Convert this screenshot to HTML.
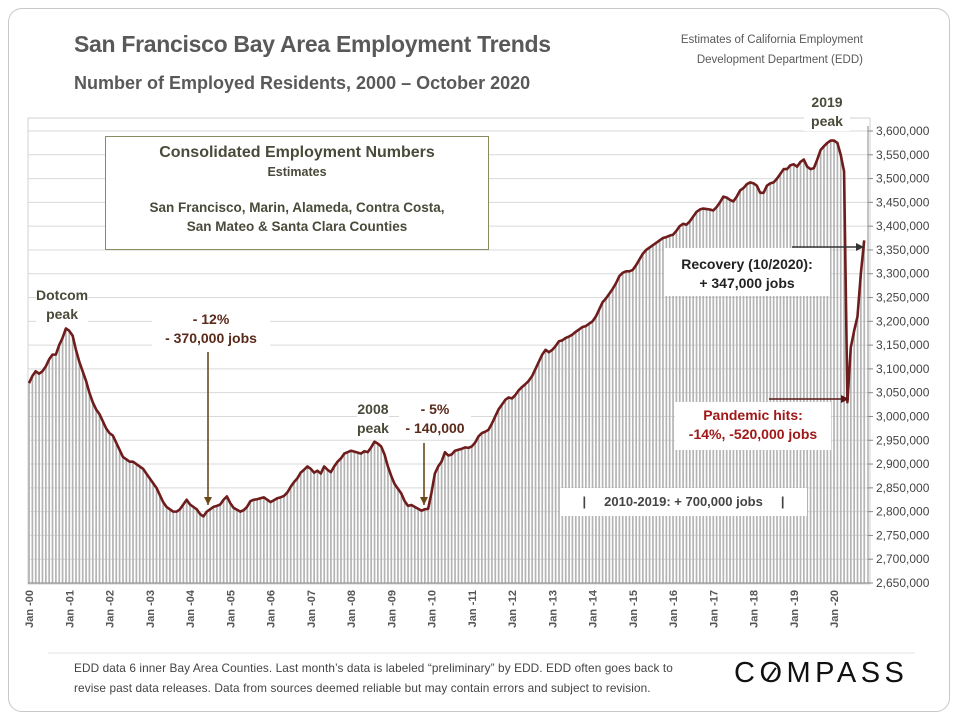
<!DOCTYPE html>
<html><head><meta charset="utf-8"><style>
body{margin:0;background:#fff;width:960px;height:720px;overflow:hidden;font-family:"Liberation Sans",sans-serif}
.card{position:absolute;left:8px;top:8px;width:940px;height:702px;border:1px solid #c8c8c8;border-radius:14px}
.t{position:absolute;white-space:nowrap}
</style></head><body>
<div class="card"></div>
<div class="t" style="left:74px;top:31px;font-size:23px;font-weight:bold;color:#595959;letter-spacing:-0.3px">San Francisco Bay Area Employment Trends</div>
<div class="t" style="left:74px;top:73px;font-size:18px;font-weight:bold;color:#595959;letter-spacing:0px">Number of Employed Residents, 2000 – October 2020</div>
<div class="t" style="right:97px;top:30px;font-size:11.5px;color:#595959;text-align:right;line-height:20px">Estimates of California Employment<br>Development Department (EDD)</div>
<svg id="chart" width="960" height="720" style="position:absolute;left:0;top:0"></svg>
<div class="t" style="left:105px;top:136px;width:382px;height:112px;border:1px solid #8a8a60;background:#fff;text-align:center;color:#4a4a3a;font-weight:bold">
<div style="font-size:16px;margin-top:7px">Consolidated Employment Numbers</div>
<div style="font-size:12.5px;margin-top:3px">Estimates</div>
<div style="font-size:13.5px;margin-top:19px;line-height:19px">San Francisco, Marin, Alameda, Contra Costa,<br>San Mateo &amp; Santa Clara Counties</div></div>
<div class="t" style="left:36px;top:286px;font-size:14px;font-weight:bold;color:#4a4a3a;text-align:center;line-height:19px;background:#fff">Dotcom<br>peak</div>
<div class="t" style="left:152px;top:310px;font-size:14px;font-weight:bold;color:#5a2a1a;text-align:center;line-height:19px;background:#fff;width:118px">- 12%<br>- 370,000 jobs</div>
<div class="t" style="left:357px;top:400px;font-size:14px;font-weight:bold;color:#4a4a3a;text-align:center;line-height:19px;background:#fff">2008<br>peak</div>
<div class="t" style="left:399px;top:400px;font-size:14px;font-weight:bold;color:#5a2a1a;text-align:center;line-height:19px;background:#fff;width:72px">- 5%<br>- 140,000</div>
<div class="t" style="left:804px;top:93px;font-size:14px;font-weight:bold;color:#4a4a3a;text-align:center;line-height:19px;background:#fff;width:46px">2019<br>peak</div>
<div class="t" style="left:664px;top:248px;width:166px;height:48px;font-size:14px;font-weight:bold;color:#222;text-align:center;line-height:19px;background:#fff;padding-top:7px;box-sizing:border-box">Recovery (10/2020):<br>+ 347,000 jobs</div>
<div class="t" style="left:675px;top:402px;width:156px;height:48px;font-size:14px;font-weight:bold;color:#a01818;text-align:center;line-height:19px;background:#fff;padding-top:4px;box-sizing:border-box">Pandemic hits:<br>-14%, -520,000 jobs</div>
<div class="t" style="left:560px;top:488px;width:247px;height:28px;font-size:13px;font-weight:bold;color:#444;text-align:center;line-height:28px;background:#fff">|&nbsp;&nbsp;&nbsp;&nbsp;&nbsp;2010-2019: + 700,000 jobs&nbsp;&nbsp;&nbsp;&nbsp;&nbsp;|</div>
<div class="t" style="left:74px;top:658px;font-size:11.8px;color:#444;line-height:20px;letter-spacing:0.1px">EDD data 6 inner Bay Area Counties. Last month’s data is labeled “preliminary” by EDD. EDD often goes back to<br>revise past data releases. Data from sources deemed reliable but may contain errors and subject to revision.</div>
<div class="t" style="left:734px;top:657px;font-size:29px;letter-spacing:4.5px;color:#111">C<span style="display:inline-block;position:relative">O<span style="position:absolute;left:5px;top:16px;width:15px;height:2px;background:#111;transform:rotate(-55deg)"></span></span>MPASS</div>
<script>
const years=['00','01','02','03','04','05','06','07','08','09','10','11','12','13','14','15','16','17','18','19','20'];
const yTicks=[2650,2700,2750,2800,2850,2900,2950,3000,3050,3100,3150,3200,3250,3300,3350,3400,3450,3500,3550,3600];
const employed=[
3070,3085,3095,3090,3095,3105,3120,3130,3130,3150,3165,3185,
3180,3170,3140,3115,3095,3075,3050,3030,3015,3005,2990,2975,
2965,2960,2945,2930,2915,2910,2905,2905,2900,2895,2890,2880,
2870,2860,2850,2835,2820,2810,2805,2800,2800,2805,2815,2825,
2815,2810,2805,2795,2790,2800,2805,2810,2812,2815,2825,2832,
2818,2808,2804,2800,2803,2810,2822,2825,2826,2828,2830,2825,
2820,2824,2828,2830,2833,2840,2852,2862,2870,2882,2888,2895,
2890,2882,2886,2880,2895,2888,2883,2895,2905,2912,2922,2925,
2928,2926,2924,2922,2927,2925,2935,2947,2943,2937,2920,2895,
2875,2858,2848,2838,2822,2812,2814,2810,2806,2802,2805,2806,
2840,2880,2895,2905,2925,2918,2920,2928,2930,2932,2935,2934,
2937,2945,2958,2965,2968,2972,2985,3000,3015,3025,3035,3040,
3038,3045,3055,3062,3068,3075,3085,3100,3115,3130,3140,3135,
3140,3148,3158,3160,3165,3168,3172,3178,3183,3188,3190,3195,
3200,3210,3225,3240,3248,3258,3268,3280,3295,3302,3305,3305,
3308,3318,3330,3342,3350,3355,3360,3365,3370,3375,3377,3380,
3382,3390,3400,3405,3403,3410,3420,3430,3435,3437,3436,3435,
3433,3440,3450,3462,3460,3455,3452,3462,3475,3480,3488,3492,
3490,3485,3470,3470,3485,3490,3492,3500,3510,3520,3520,3528,
3530,3525,3535,3540,3525,3520,3522,3540,3560,3568,3575,3580,
3580,3575,3550,3515,3030,3145,3180,3210,3300,3370];
const NS='http://www.w3.org/2000/svg';
const svg=document.getElementById('chart');
const x0=29,pxM=40.25/12,yTop=131,yBot=583,vTop=3600,vBot=2650;
const X=i=>x0+i*pxM;
const Y=v=>yBot-(v-vBot)/(vTop-vBot)*(yBot-yTop);
function mk(t,a){const e=document.createElementNS(NS,t);for(const k in a)e.setAttribute(k,a[k]);svg.appendChild(e);return e;}
const frame=mk('rect',{x:28,y:118,width:842,height:466,fill:'none',stroke:'#d0d0d0'});


yTicks.forEach(v=>{
 const g=mk('line',{x1:28,x2:868,y1:Y(v),y2:Y(v),stroke:'#d9d9d9'});
 
 
 const tk=mk('line',{x1:868,x2:873,y1:Y(v),y2:Y(v),stroke:'#888'});
 
 
 const t=mk('text',{x:876,y:Y(v)+4,'font-size':12,fill:'#444','font-family':'Liberation Sans, sans-serif'});
 t.textContent=(v*1000).toLocaleString('en-US');
 
 
});
employed.forEach((v,i)=>{
 const b=mk('rect',{x:X(i)-0.8,y:Y(v),width:1.7,height:yBot-Y(v),fill:'#b4b4b4'});
 
 
});
const ax=mk('line',{x1:28,x2:868,y1:yBot,y2:yBot,stroke:'#888'});


const ay=mk('line',{x1:868,x2:868,y1:yTop-5,y2:yBot,stroke:'#888'});


const sep=mk('line',{x1:48,x2:915,y1:653,y2:653,stroke:'#e4e4e4'});


years.forEach((yr,k)=>{
 const xx=X(k*12);
 const t=mk('text',{x:0,y:0,'font-size':11,'font-weight':'bold',fill:'#555','text-anchor':'end','font-family':'Liberation Sans, sans-serif',transform:`translate(${xx+4},590) rotate(-90)`});
 t.textContent='Jan -'+yr;
 
 
});
const line=mk('polyline',{points:employed.map((v,i)=>X(i)+','+Y(v)).join(' '),fill:'none',stroke:'#6e1c1c','stroke-width':2.6,'stroke-linejoin':'round'});


function arrow(name,x1,y1,x2,y2,c){
 const l=mk('line',{x1,y1,x2,y2,stroke:c,'stroke-width':1.6});
 
 
 const a=Math.atan2(y2-y1,x2-x1),s=8;
 const p=[[x2,y2],[x2-s*Math.cos(a)+4*Math.sin(a),y2-s*Math.sin(a)-4*Math.cos(a)],[x2-s*Math.cos(a)-4*Math.sin(a),y2-s*Math.sin(a)+4*Math.cos(a)]];
 const h=mk('polygon',{points:p.map(q=>q.join(',')).join(' '),fill:c});
 
 
}
arrow('arrow-2004',208,352,208,505,'#6b4a1a');
arrow('arrow-2009',424,443,424,505,'#6b4a1a');
arrow('arrow-recovery',792,247,864,247,'#333');
arrow('arrow-pandemic',769,399,849,399,'#5a1515');
</script>
</body></html>
